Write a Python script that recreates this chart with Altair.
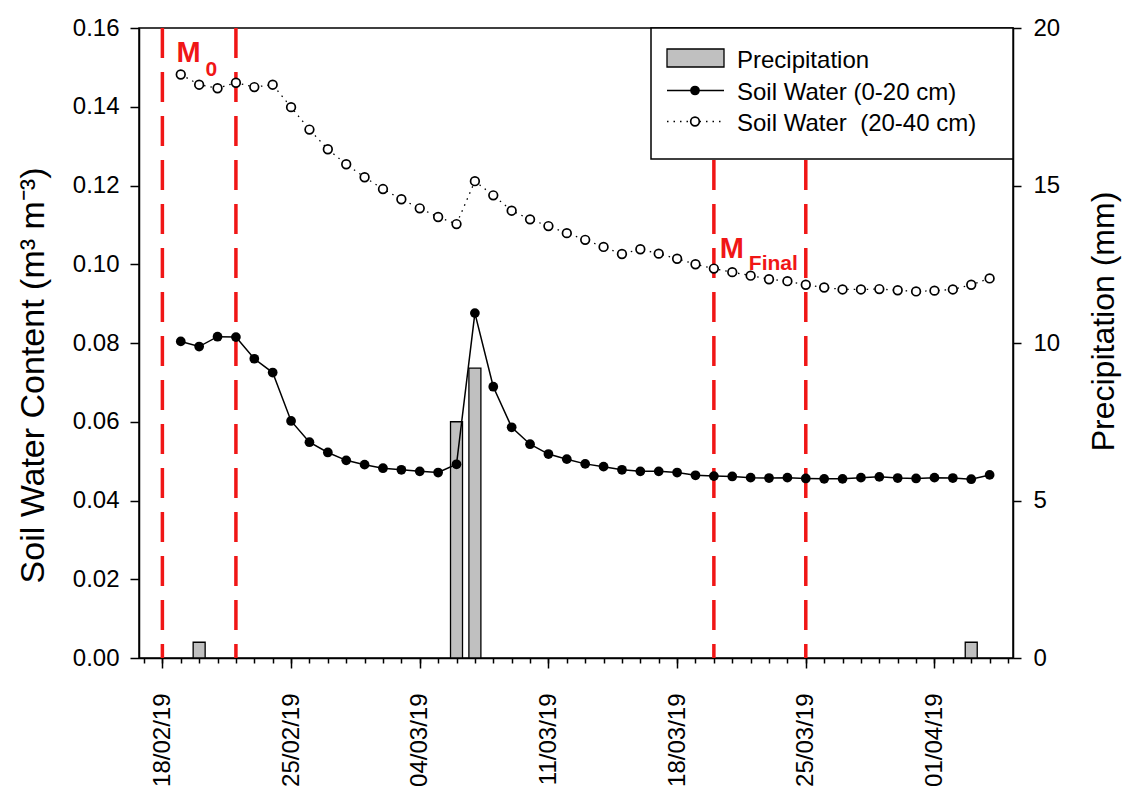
import altair as alt
import pandas as pd

# ---------------- data ----------------
dates = pd.date_range("2019-02-19", periods=45, freq="D").strftime("%Y-%m-%d").tolist()

swc_0_20 = [0.0804, 0.0791, 0.0816, 0.0815, 0.0760, 0.0725, 0.0602, 0.0548, 0.0522, 0.0502,
            0.0491, 0.0482, 0.0478, 0.0474, 0.0471, 0.0492, 0.0876, 0.0689, 0.0586, 0.0543,
            0.0518, 0.0505, 0.0493, 0.0486, 0.0478, 0.0474, 0.0474, 0.0471, 0.0464, 0.0462,
            0.0461, 0.0458, 0.0457, 0.0458, 0.0456, 0.0455, 0.0455, 0.0458, 0.0460, 0.0457,
            0.0456, 0.0458, 0.0457, 0.0454, 0.0465]

swc_20_40 = [0.1482, 0.1456, 0.1447, 0.1461, 0.1450, 0.1456, 0.1399, 0.1342, 0.1292, 0.1254,
             0.1221, 0.1191, 0.1165, 0.1142, 0.1120, 0.1102, 0.1211, 0.1175, 0.1136, 0.1114,
             0.1097, 0.1079, 0.1062, 0.1044, 0.1026, 0.1038, 0.1027, 0.1014, 0.1000, 0.0989,
             0.0980, 0.0971, 0.0962, 0.0957, 0.0948, 0.0941, 0.0936, 0.0936, 0.0937, 0.0934,
             0.0931, 0.0933, 0.0936, 0.0948, 0.0964]

precip_dates = ["2019-02-20", "2019-03-06", "2019-03-07", "2019-04-03"]
precip_mm = [0.5, 7.5, 9.2, 0.5]

marker_dates = ["2019-02-18", "2019-02-22", "2019-03-20", "2019-03-25"]

major_tick_dates = ["2019-02-18", "2019-02-25", "2019-03-04", "2019-03-11",
                    "2019-03-18", "2019-03-25", "2019-04-01"]
minor_tick_dates = pd.date_range("2019-02-17", "2019-04-05", freq="D").strftime("%Y-%m-%d").tolist()
x_domain_dates = ["2019-02-17", "2019-04-05"]

swc_ticks = [0.00, 0.02, 0.04, 0.06, 0.08, 0.10, 0.12, 0.14, 0.16]
precip_ticks = [0, 5, 10, 15, 20]

legend_labels = ["Precipitation", "Soil Water (0-20 cm)", "Soil Water\u00a0 (20-40 cm)"]
left_title = "Soil Water Content (m\u00b3 m\u207b\u00b3)"
right_title = "Precipitation (mm)"

# ---------------- helpers ----------------
FONT = "Liberation Sans"
RED = "#f01616"


def dt(s):
    y, m, d = map(int, s.split("-"))
    return alt.DateTime(year=y, month=m, date=d, utc=True)


xscale = alt.Scale(type="utc", domain=[dt(s) for s in x_domain_dates])

swc_df = pd.DataFrame({"date": dates, "s1": swc_0_20, "s2": swc_20_40})
pr_df = pd.DataFrame({"date": precip_dates, "p": precip_mm})
mk_df = pd.DataFrame({"date": marker_dates})

major_axis = alt.Axis(orient="bottom", values=[dt(s) for s in major_tick_dates], format="%d/%m/%y",
                      labelAngle=270, labelFontSize=24, labelFont=FONT, labelColor="black",
                      tickSize=10, tickColor="black", tickWidth=1.5, labelPadding=25,
                      domainColor="black", domainWidth=1.5, grid=False, title=None)
minor_axis = alt.Axis(orient="bottom", values=[dt(s) for s in minor_tick_dates], labels=False,
                      tickSize=5, tickColor="black", tickWidth=1.5, domain=False,
                      grid=False, title=None)

left_axis = alt.Axis(values=swc_ticks, format=".2f", labelFontSize=24, labelFont=FONT,
                     labelColor="black", tickSize=9, tickColor="black", tickWidth=1.5,
                     labelPadding=11, domainColor="black", domainWidth=1.5, grid=False,
                     title=left_title, titleFont=FONT, titleFontSize=34,
                     titleFontWeight="normal", titleColor="black", titleAngle=270,
                     titleX=-96, titleY=347, titleAlign="center", titleBaseline="alphabetic")

right_axis = alt.Axis(orient="right", values=precip_ticks, labelFontSize=24, labelFont=FONT,
                      labelColor="black", tickSize=8, tickColor="black", tickWidth=1.5,
                      labelPadding=12, domainColor="black", domainWidth=1.5, grid=False,
                      title=right_title, titleFont=FONT, titleFontSize=32,
                      titleFontWeight="normal", titleColor="black", titleAngle=270,
                      titleX=100, titleY=293, titleAlign="center", titleBaseline="alphabetic")

# ---------------- precipitation bars (right axis) ----------------
bars = alt.Chart(pr_df).mark_bar(size=12, color="#c0c0c0", stroke="black", strokeWidth=1.3).encode(
    x=alt.X("date:T", scale=xscale, axis=minor_axis),
    y=alt.Y("p:Q", scale=alt.Scale(domain=[0, 20], nice=False), axis=right_axis),
)

# ---------------- soil water (left axis) ----------------
base = alt.Chart(swc_df)
line1 = base.mark_line(color="black", strokeWidth=1.5).encode(
    x=alt.X("date:T", scale=xscale, axis=major_axis),
    y=alt.Y("s1:Q", scale=alt.Scale(domain=[0, 0.16], nice=False), axis=left_axis),
)
pts1 = base.mark_circle(color="black", size=95, opacity=1).encode(x="date:T", y="s1:Q")
line2 = base.mark_line(color="black", strokeWidth=1.3, strokeDash=[1.5, 5]).encode(x="date:T", y="s2:Q")
pts2 = base.mark_point(shape="circle", filled=True, fill="white", stroke="black",
                       strokeWidth=1.7, size=75, opacity=1).encode(x="date:T", y="s2:Q")

rules = alt.Chart(mk_df).mark_rule(color=RED, strokeWidth=3.5, strokeDash=[30, 14]).encode(x="date:T")


def mtext(date, yv, txt, size, dx):
    return alt.Chart(pd.DataFrame({"date": [date], "v": [yv], "t": [txt]})).mark_text(
        align="left", baseline="alphabetic", font=FONT, fontWeight="bold",
        fontSize=size, color=RED, dx=dx).encode(x="date:T", y="v:Q", text="t:N")


m0 = mtext(marker_dates[0], 0.1513, "M", 29, 14)
m0s = mtext(marker_dates[0], 0.1479, "0", 21, 43)
mf = mtext(marker_dates[2], 0.1016, "M", 29, 6)
mfs = mtext(marker_dates[2], 0.0985, "Final", 21, 35)

inner = alt.layer(rules, line1, line2, pts2, pts1, m0, m0s, mf, mfs)

# ---------------- legend ----------------
one = pd.DataFrame({"k": [0]})
leg_box = alt.Chart(one).mark_rect(fill="white", stroke="black", strokeWidth=1.5).encode(
    x=alt.value(512), x2=alt.value(874), y=alt.value(0), y2=alt.value(131))
leg_rect = alt.Chart(one).mark_rect(fill="#c0c0c0", stroke="black", strokeWidth=1.3).encode(
    x=alt.value(528), x2=alt.value(585), y=alt.value(21), y2=alt.value(39))
leg_line1 = alt.Chart(one).mark_rule(color="black", strokeWidth=1.5).encode(
    x=alt.value(528), x2=alt.value(585), y=alt.value(62.5))
leg_pt1 = alt.Chart(one).mark_circle(color="black", size=95, opacity=1).encode(
    x=alt.value(556), y=alt.value(62.5))
leg_line2 = alt.Chart(one).mark_rule(color="black", strokeWidth=1.3, strokeDash=[1.5, 5]).encode(
    x=alt.value(528), x2=alt.value(585), y=alt.value(93.5))
leg_pt2 = alt.Chart(one).mark_point(shape="circle", filled=True, fill="white", stroke="black",
                                    strokeWidth=1.7, size=75, opacity=1).encode(
    x=alt.value(556), y=alt.value(93.5))


def ltext(txt, yv):
    return alt.Chart(pd.DataFrame({"t": [txt]})).mark_text(
        align="left", baseline="alphabetic", font=FONT, fontSize=24, color="black").encode(
        x=alt.value(598), y=alt.value(yv), text="t:N")


leg_t = [ltext(legend_labels[0], 39.5), ltext(legend_labels[1], 71.5), ltext(legend_labels[2], 103)]

chart = alt.layer(bars, inner, leg_box, leg_rect, leg_line1, leg_pt1, leg_line2, leg_pt2, *leg_t
                  ).resolve_scale(y="independent").resolve_axis(x="independent").properties(
    width=874, height=630,
    autosize=alt.AutoSizeParams(type="none"),
    padding={"left": 139, "top": 28, "right": 109, "bottom": 133},
    background="white",
).configure_view(stroke="black", strokeWidth=1.5)

chart.save("out.html", embed_options={"renderer": "svg", "actions": False})
